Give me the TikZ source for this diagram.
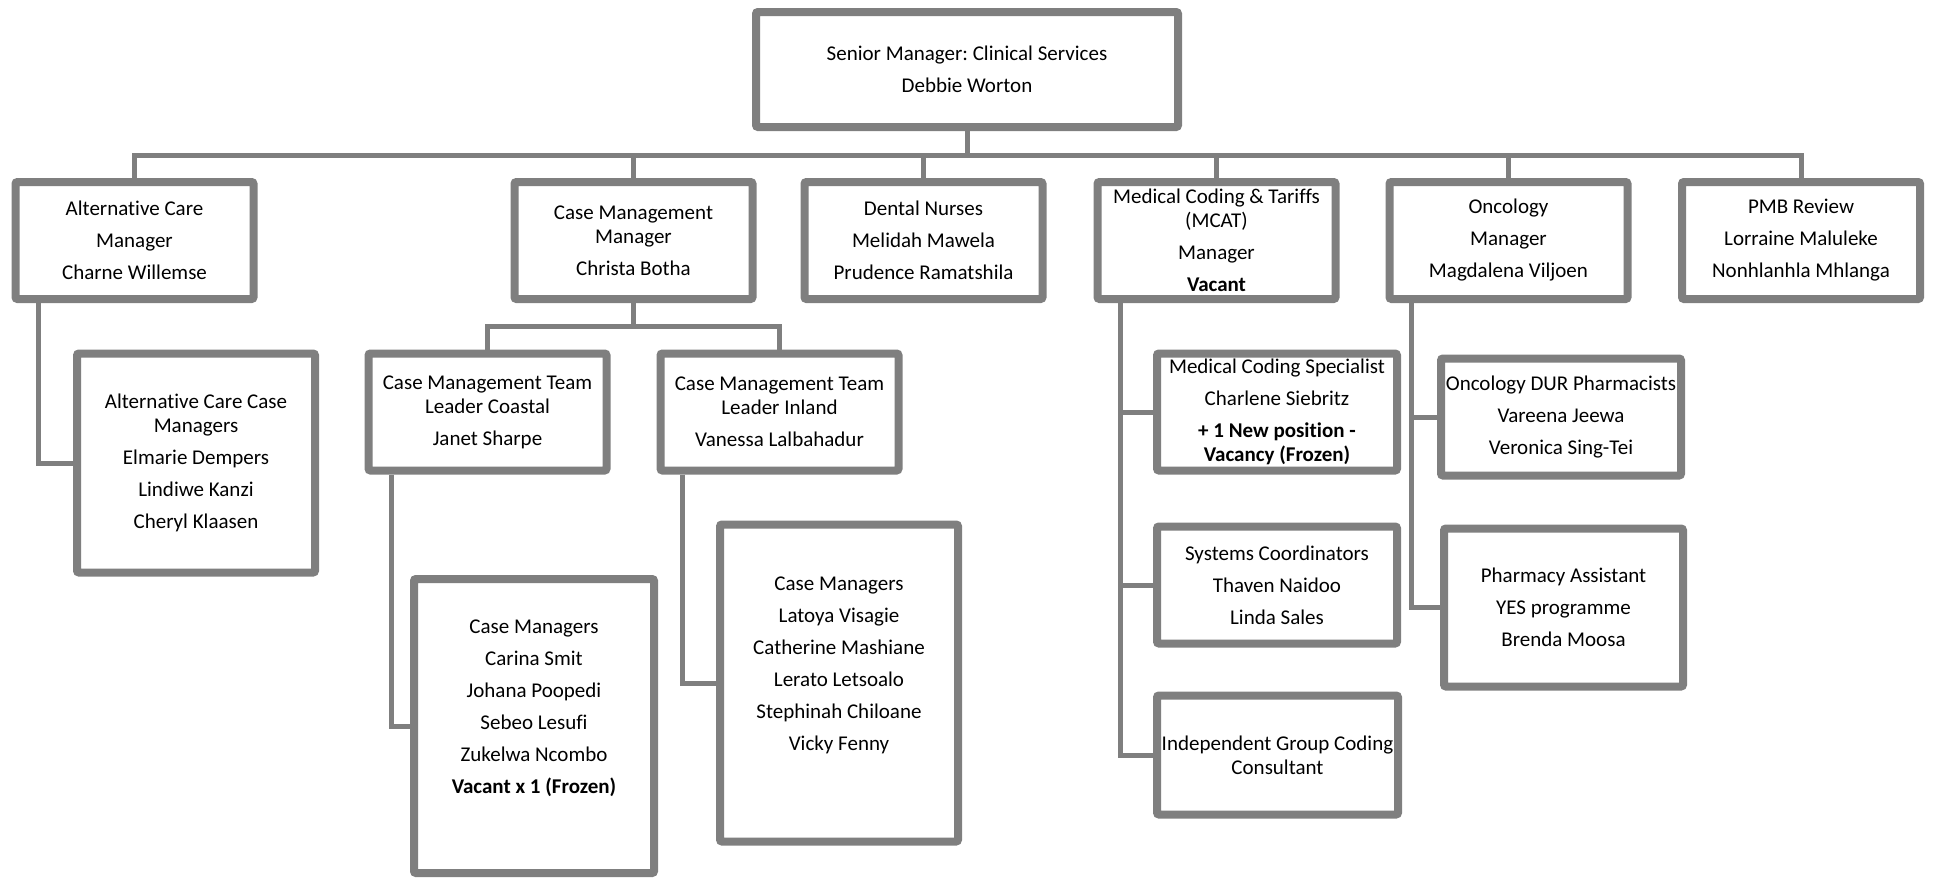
\documentclass[tikz,border=0pt]{standalone}
\usepackage{fontspec}
\setmainfont{Carlito}[Ligatures=NoCommon]
\usepackage{tikz}
\usetikzlibrary{shadows}
\usepackage{xcolor}
\frenchspacing

\begin{document}
\begin{tikzpicture}[x=0.5pt,y=0.5pt,yscale=-1,xscale=1,
  orgbox/.style={draw={rgb, 255:red, 127; green, 127; blue, 127 }, line width=4pt, rounded corners=1pt, fill=white,
    drop shadow={shadow xshift=1pt, shadow yshift=-1.5pt, opacity=0.18, fill=black},
    align=center, inner sep=0pt, minimum width=119pt, minimum height=58.5pt,
    font=\fontsize{10.5}{12}\selectfont},
  link/.style={draw={rgb, 255:red, 127; green, 127; blue, 127 }, line width=2.5pt}]
%set diagram size 1934 x 878
\useasboundingbox (0,0) rectangle (1934,878);

%Shape: Box [top]
\node [orgbox, minimum width=211pt, minimum height=57.5pt] (senior) at (967,69.5) {Senior Manager: Clinical Services\\[4pt]Debbie Worton};
%Shape: Box [first row]
\node [orgbox] (altcare) at (134.5,240.5) {Alternative Care\\[4pt]Manager\\[4pt]Charne Willemse};
\node [orgbox] (casemgr) at (633.5,240.5) {Case Management\\Manager\\[4pt]Christa Botha};
\node [orgbox] (dental) at (923.5,240.5) {Dental Nurses\\[4pt]Melidah Mawela\\[4pt]Prudence Ramatshila};
\node [orgbox] (mcat) at (1216.5,240.5) {Medical Coding \& Tariffs\\(MCAT)\\[4pt]Manager\\[4pt]\textbf{Vacant}};
\node [orgbox] (oncology) at (1508.5,240.5) {Oncology\\[4pt]Manager\\[4pt]Magdalena Viljoen};
\node [orgbox] (pmb) at (1801,240.5) {PMB Review\\[4pt]Lorraine Maluleke\\[4pt]Nonhlanhla Mhlanga};
%Shape: Box [alternative care]
\node [orgbox, minimum height=109.5pt] (altcm) at (196,463) {Alternative Care Case\\Managers\\[4pt]Elmarie Dempers\\[4pt]Lindiwe Kanzi\\[4pt]Cheryl Klaasen};
%Shape: Box [case management]
\node [orgbox] (tlcoastal) at (487.5,412) {Case Management Team\\Leader Coastal\\[4pt]Janet Sharpe};
\node [orgbox] (tlinland) at (779.5,412) {Case Management Team\\Leader Inland\\[4pt]Vanessa Lalbahadur};
\node [orgbox, minimum width=120pt, minimum height=147pt] (cmcoastal) at (534,726) {Case Managers\\[4pt]Carina Smit\\[4pt]Johana Poopedi\\[4pt]Sebeo Lesufi\\[4pt]Zukelwa Ncombo\\[4pt]\textbf{Vacant x 1 (Frozen)}\\[4pt]\strut};
\node [orgbox, minimum height=158.5pt] (cminland) at (839,683) {Case Managers\\[4pt]Latoya Visagie\\[4pt]Catherine Mashiane\\[4pt]Lerato Letsoalo\\[4pt]Stephinah Chiloane\\[4pt]Vicky Fenny\\[4pt]\strut};
%Shape: Box [medical coding]
\node [orgbox, minimum width=120pt] (mcspec) at (1277,412) {Medical Coding Specialist\\[4pt]Charlene Siebritz\\[4pt]\textbf{+ 1 New position -}\\\textbf{Vacancy (Frozen)}};
\node [orgbox, minimum width=120pt] (syscoord) at (1277,585) {Systems Coordinators\\[4pt]Thaven Naidoo\\[4pt]Linda Sales};
\node [orgbox, minimum width=120.5pt, minimum height=59.5pt] (indep) at (1277.5,755) {Independent Group Coding\\Consultant};
%Shape: Box [oncology]
\node [orgbox, minimum width=120pt] (durpharm) at (1561,417) {Oncology DUR Pharmacists\\[4pt]Vareena Jeewa\\[4pt]Veronica Sing-Tei};
\node [orgbox, minimum width=119.5pt, minimum height=79pt] (pharmassist) at (1563.5,607.5) {Pharmacy Assistant\\[4pt]YES programme\\[4pt]Brenda Moosa};

%Straight Lines [senior to first row]
\coordinate (bus) at (967,155);
\draw [link] (senior.south) -- (bus);
\draw [link] (altcare.north) |- (bus) -| (pmb.north);
\draw [link] (casemgr.north) -- (casemgr.north |- bus);
\draw [link] (dental.north) -- (dental.north |- bus);
\draw [link] (mcat.north) -- (mcat.north |- bus);
\draw [link] (oncology.north) -- (oncology.north |- bus);
%Straight Lines [alternative care]
\draw [link] ([xshift=13.5pt]altcare.south west) |- (altcm.west);
%Straight Lines [case management]
\coordinate (cmbus) at (633.5,326);
\draw [link] (casemgr.south) -- (cmbus);
\draw [link] (tlcoastal.north) |- (cmbus) -| (tlinland.north);
\draw [link] ([xshift=13.5pt]tlcoastal.south west) |- (cmcoastal.west);
\draw [link] ([xshift=13pt]tlinland.south west) |- (cminland.west);
%Straight Lines [medical coding]
\coordinate (mcatdrop) at ([xshift=13.5pt]mcat.south west);
\draw [link] (mcatdrop) |- (indep.west);
\draw [link] (mcatdrop |- mcspec.west) -- (mcspec.west);
\draw [link] (mcatdrop |- syscoord.west) -- (syscoord.west);
%Straight Lines [oncology]
\coordinate (oncdrop) at ([xshift=13pt]oncology.south west);
\draw [link] (oncdrop) |- (pharmassist.west);
\draw [link] (oncdrop |- durpharm.west) -- (durpharm.west);

\end{tikzpicture}
\end{document}
